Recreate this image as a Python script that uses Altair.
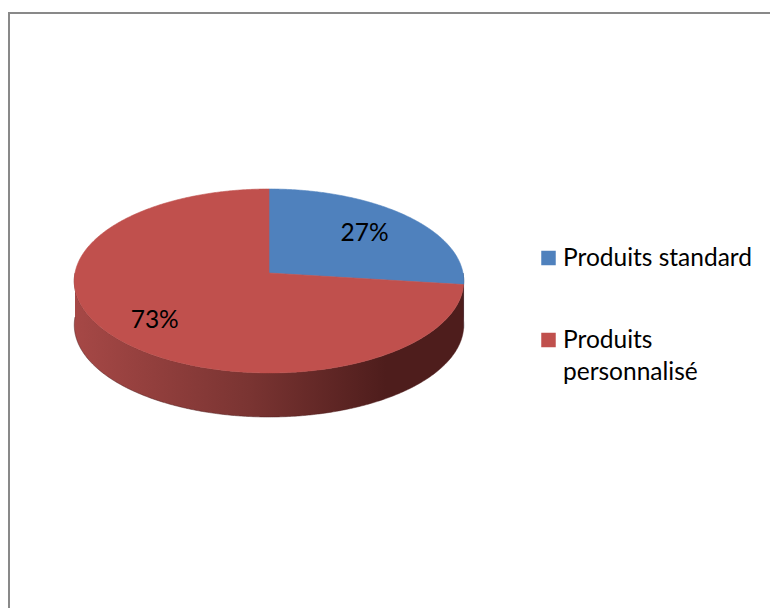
import math
import textwrap
import altair as alt
import pandas as pd

# ---- data ----
categories = ["Produits standard", "Produits personnalisé"]
values = [27, 73]
colors = ["#4F81BD", "#C0504D"]
side_stops = [
    ["#3E6694", "#2F5077", "#233B59"],
    ["#A64846", "#7A3432", "#4E1D1C"],
]

# ---- drawing geometry (pixel space) ----
W, H = 770, 608
X0, Y0 = 269.0, 273.0      # pie centre (projected)
A, B = 91.3, 194.0         # vertical / horizontal radius
K = 0.087                  # perspective factor
DEPTH = 44.0               # thickness of the pie
LABEL_R = 0.72


def proj(phi_deg, r=1.0):
    p = math.radians(phi_deg)
    s, c = r * math.sin(p), r * math.cos(p)
    d = 1 + K * s
    return X0 + B * c / d, Y0 - A * s / d


def arc_angles(a0, a1):
    n = max(2, int(abs(a1 - a0) / 0.5) + 1)
    return [a0 + (a1 - a0) * i / (n - 1) for i in range(n)]


total = sum(values)
top_rows, label_rows, side_parts = [], [], []
cum = 0.0
for cat, v in zip(categories, values):
    a_start = 90 - 360 * cum / total
    a_end = 90 - 360 * (cum + v) / total
    cum += v
    i = 0
    top_rows.append(dict(cat=cat, i=i, x=X0, y=Y0)); i += 1
    for a in arc_angles(a_start, a_end):
        x, y = proj(a)
        top_rows.append(dict(cat=cat, i=i, x=x, y=y)); i += 1
    top_rows.append(dict(cat=cat, i=i, x=X0, y=Y0))
    mid = (a_start + a_end) / 2
    lx, ly = proj(mid, LABEL_R)
    label_rows.append(dict(cat=cat, txt=f"{round(100 * v / total)}%", x=lx, y=ly))
    # visible side: part of the slice in the lower half (angles -180..0)
    lo = max(min(a_start, a_end), -180.0)
    hi = min(max(a_start, a_end), 0.0)
    rows = []
    if hi > lo:
        angs = arc_angles(lo, hi)
        j = 0
        for a in angs:
            x, y = proj(a)
            rows.append(dict(i=j, x=x, y=y)); j += 1
        for a in reversed(angs):
            x, y = proj(a)
            rows.append(dict(i=j, x=x, y=y + DEPTH)); j += 1
    side_parts.append(rows)

top_df = pd.DataFrame(top_rows)
label_df = pd.DataFrame(label_rows)

xs = alt.Scale(domain=[0, W], nice=False, zero=False)
ys = alt.Scale(domain=[0, H], nice=False, zero=False, reverse=True)
X = lambda f: alt.X(f, type="quantitative", scale=xs, axis=None)
Y = lambda f: alt.Y(f, type="quantitative", scale=ys, axis=None)

color_scale = alt.Scale(domain=categories, range=colors)

layers = []

border = alt.Chart(pd.DataFrame({"k": [0]})).mark_rect(
    fillOpacity=0, stroke="#898989", strokeWidth=2
).encode(x=alt.value(9), x2=alt.value(W + 20), y=alt.value(13), y2=alt.value(H + 20))
layers.append(border)

for k, rows in enumerate(side_parts):
    if not rows:
        continue
    st = side_stops[k]
    grad = alt.Gradient(
        gradient="linear",
        x1=0, x2=1, y1=0, y2=0,
        stops=[
            alt.GradientStop(offset=0, color=st[0]),
            alt.GradientStop(offset=0.45, color=st[1]),
            alt.GradientStop(offset=0.8, color=st[2]),
            alt.GradientStop(offset=1, color=st[2]),
        ],
    )
    layers.append(
        alt.Chart(pd.DataFrame(rows)).mark_line(
            fill=grad, stroke=st[2], strokeWidth=0.5, interpolate="linear"
        ).encode(x=X("x"), y=Y("y"), order=alt.Order("i:Q"))
    )

top = alt.Chart(top_df).mark_line(strokeWidth=0.6, interpolate="linear").encode(
    x=X("x"),
    y=Y("y"),
    fill=alt.Fill("cat:N", scale=color_scale, legend=None),
    stroke=alt.Stroke("cat:N", scale=color_scale, legend=None),
    detail="cat:N",
    order=alt.Order("i:Q"),
)
layers.append(top)

labels = alt.Chart(label_df).mark_text(
    font="Lato", fontSize=24.5, color="#000000", align="center", baseline="middle",
    dx=-5, dy=3,
).encode(x=X("x"), y=Y("y"), text="txt:N")
layers.append(labels)

# ---- legend ----
LEG_X_SYM, LEG_X_TXT = 548.5, 563
LEG_Y0, LEG_GAP = 258, 82
leg_df = pd.DataFrame({
    "cat": categories,
    "lbl": [textwrap.fill(c, 17) for c in categories],
    "ys": [LEG_Y0 + LEG_GAP * i for i in range(len(categories))],
    "yt": [LEG_Y0 + 8 + LEG_GAP * i for i in range(len(categories))],
})
leg_sym = alt.Chart(leg_df).mark_square(size=210, opacity=1).encode(
    x=alt.value(LEG_X_SYM), y=Y("ys"),
    color=alt.Color("cat:N", scale=color_scale, legend=None),
)
leg_txt = alt.Chart(leg_df).mark_text(
    font="Lato", fontSize=24.5, color="#000000", align="left",
    baseline="alphabetic", lineBreak="\n", lineHeight=32,
).encode(x=alt.value(LEG_X_TXT), y=Y("yt"), text="lbl:N")
layers += [leg_sym, leg_txt]

chart = alt.layer(*layers).properties(
    width=W, height=H, padding=0, autosize="none", background="#FFFFFF"
).configure_view(strokeWidth=0)

chart.save("out.html", embed_options={"renderer": "svg", "actions": False})
